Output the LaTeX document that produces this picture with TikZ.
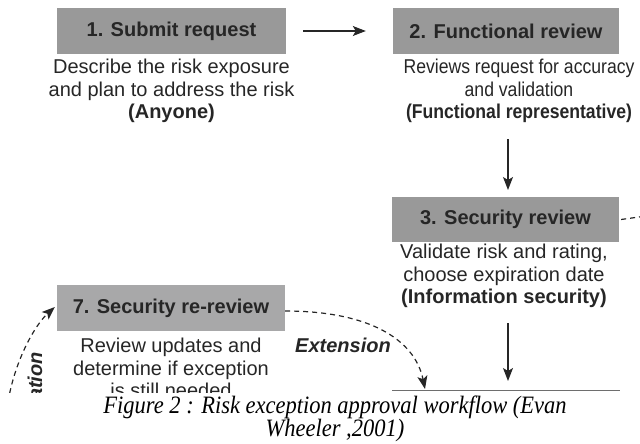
\documentclass[tikz,border=0pt]{standalone}
\usepackage{fontspec}
\setmainfont{Liberation Sans}
\newfontfamily\narrowsans[FakeStretch=0.88]{Liberation Sans}
\newfontfamily\captionserif[FakeStretch=0.9]{Liberation Serif}
\usetikzlibrary{arrows.meta}
\definecolor{boxgray}{HTML}{999999}
\definecolor{boxlight}{HTML}{A8A8A9}
\definecolor{ink}{HTML}{262626}
\definecolor{rule}{HTML}{6E6E6E}
\begin{document}
\begin{tikzpicture}[x=1pt,y=-1pt,
  stage/.style={fill=boxgray, minimum width=228pt, minimum height=46pt, inner sep=0pt,
    font=\fontsize{20}{22.5}\selectfont\bfseries, text=ink},
  note/.style={align=center, inner sep=0pt, font=\fontsize{20}{22.5}\selectfont, text=ink},
  flow/.style={line width=1.2pt, draw=ink, -{Stealth[length=13pt,width=10pt,inset=3pt]}},
  optional/.style={flow, dash pattern=on 5pt off 4pt},
  tag/.style={inner sep=0pt, font=\fontsize{20}{22.5}\selectfont\bfseries\itshape, text=ink}
]
\useasboundingbox (0,0) rectangle (640,444);

\begin{scope}
\clip (0,0) rectangle (640,392);

% stages
\node[stage, minimum width=229pt] (s1) at (171.5,31) {1. Submit request};
\node[stage, minimum width=226pt] (s2) at (506,31) {2. Functional review};
\node[stage, minimum width=227pt, minimum height=45pt] (s3) at (505.5,219.5) {3. Security review};
\node[stage, fill=boxlight] (s7) at (171,308) {7. Security re-review};

% descriptions
\node[note] (n1) at (171.5,91) {Describe the risk exposure\\and plan to address the risk\\\textbf{(Anyone)}};
\node[note, font=\narrowsans\fontsize{20}{22.5}\selectfont] (n2) at (519,91) {Reviews request for accuracy\\and validation\\\textbf{(Functional representative)}};
\node[note] (n3) at (504,276) {Validate risk and rating,\\choose expiration date\\\textbf{(Information security)}};
\node[note] (n7) at (171,368) {Review updates and\\determine if exception\\is still needed};

% top edge of the next stage
\coordinate (s4w) at (392,390.5);
\coordinate (s4e) at (620,390.5);
\draw[line width=0.8pt, draw=rule] (s4w) -- (s4e);

% solid flow
\draw[flow] ([xshift=17pt]s1.east) -- ([xshift=-27pt]s2.west);
\coordinate (d2) at (508,139);
\coordinate (t3) at (508,190);
\draw[flow] (d2) -- (t3);
\coordinate (d3) at (508,323);
\coordinate (t4) at (508,381);
\draw[flow] (d3) -- (t4);

% dashed paths
\draw[line width=1.2pt, draw=ink, dash pattern=on 5pt off 4pt] ([xshift=2pt]s3.east) -- (660,214);
\coordinate (ext) at (425,389);
\draw[optional] ([yshift=-3pt]s7.east) .. controls (370,311) and (415,340) .. (ext);
\node[tag] (lx) at (343,345) {Extension};
\coordinate (low) at (8,402);
\draw[optional] (low) .. controls (15,360) and (35,325) .. ([xshift=-2pt,yshift=1pt]s7.west);
\node[tag, rotate=90, anchor=base east] (ly) at (42,352) {ation};
\end{scope}

% caption
\node[inner sep=0pt, align=center, text=black,
  font=\captionserif\itshape\fontsize{25}{22}\selectfont] (cap) at (335,419)
  {Figure 2 : Risk exception approval workflow (Evan\\Wheeler ,2001)};
\end{tikzpicture}
\end{document}
